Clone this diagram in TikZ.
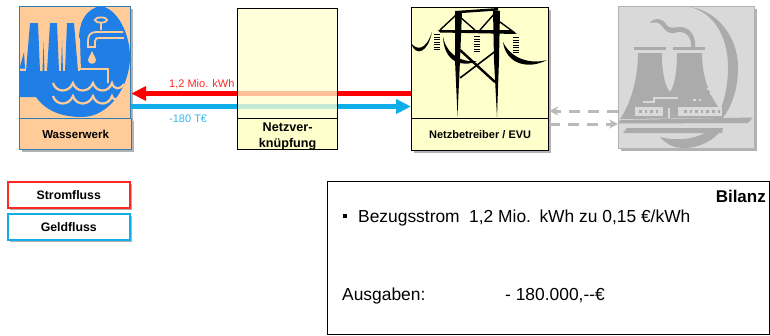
\documentclass[tikz,border=0pt]{standalone}
\usepackage{fontspec}
\setmainfont{Liberation Sans}
\usepackage{xcolor}
\usetikzlibrary{arrows.meta,shadows}
\definecolor{wasserfill}{HTML}{FFCC99}
\definecolor{wasserblau}{HTML}{1F7FE6}
\definecolor{rahmenblau}{HTML}{2E7DB5}
\definecolor{netzfill}{HTML}{FFFFCC}
\definecolor{stromrot}{HTML}{FF0000}
\definecolor{geldblau}{HTML}{0FAEE8}
\definecolor{kwfill}{HTML}{D9D9D9}
\definecolor{kwgrau}{HTML}{ABABAB}
\tikzset{
  schatten/.style={drop shadow={shadow xshift=2pt,shadow yshift=-2pt,fill=black!60,opacity=.5}},
  feld/.style={rectangle, draw, line width=1.2pt, inner sep=0pt, anchor=north west, align=center, font=\fontsize{11.5}{13}\selectfont\bfseries},
  fluss/.style={line width=5pt, -{Triangle[length=15pt,width=14pt]}},
  grauflow/.style={line width=3pt, draw=black!27, dash pattern=on 11pt off 8pt, -{Stealth[length=9pt,width=9pt]}},
  wert/.style={font=\fontsize{11}{13}\selectfont, inner sep=0pt, anchor=base west},
  bilanz/.style={font=\fontsize{17.4}{20}\selectfont, inner sep=0pt, anchor=base west},
  legende/.style={feld, schatten, fill=white, line width=1.6pt, minimum width=122pt, minimum height=26pt, font=\fontsize{12.3}{14}\selectfont\bfseries}
}
\begin{document}
\begin{tikzpicture}[x=1pt,y=-1pt]
\useasboundingbox (0,0) rectangle (770,335);

% Wasserwerk
\node[feld, schatten, fill=wasserfill, draw=rahmenblau, minimum width=111pt, minimum height=112pt] (WW) at (19,6) {};
\fill[wasserblau] (100,6) .. controls (118,8) and (130,35) .. (130,57) .. controls (130,85) and (110,117) .. (82,117) .. controls (60,117) and (45,110) .. (36,97) -- (80,71) -- (79,40) .. controls (79,22) and (85,10) .. (100,6) -- cycle;
\fill[wasserblau] (19,97) -- (19,71) -- (26,71) -- (30,23) -- (38,23) -- (40,71) -- (42.5,71) -- (43.5,42) -- (44.5,71) -- (47,71) -- (50,23) -- (57,23) -- (59,71) -- (61,71) -- (62,40) -- (63,71) -- (65,71) -- (67,23) -- (74,23) -- (78,71) -- (108,71) -- (108,97) -- cycle;
\fill[wasserblau] (19.5,68.5) -- (24,52) -- (25,68.5) -- cycle;
\draw[wasserfill, line width=1.8pt] (79,38) -- (80,69) -- (108,69) -- (108,83);
\draw[wasserfill, line width=1.8pt] (101,20) ellipse (6pt and 2.6pt);
\draw[wasserfill, line width=1.8pt] (101,23) -- (101,30);
\draw[wasserfill, line width=1.8pt] (123,32) -- (96,32) .. controls (90,32) and (88,36) .. (88,41) -- (88,47) -- (95,47) -- (95,41) .. controls (95,38) and (97,38) .. (100,38) -- (124,38);
\fill[wasserfill] (92,51) .. controls (90,56) and (88,58) .. (88,60) .. controls (88,65) and (96,65) .. (96,60) .. controls (96,58) and (94,56) .. (92,51) -- cycle;
\draw[wasserfill, line width=2.2pt] (53,83) .. controls (56,93) and (69,93) .. (73,83) .. controls (76,93) and (89,93) .. (93,83) .. controls (96,93) and (109,93) .. (112,83) .. controls (114,90) and (120,90) .. (124,84);
\draw[wasserfill, line width=2.2pt] (53,96) .. controls (56,106) and (69,106) .. (73,96) .. controls (76,106) and (89,106) .. (93,96) .. controls (96,106) and (109,106) .. (112,96) .. controls (113,100) and (116,100) .. (118,98);
\node[feld, schatten, fill=wasserfill, draw=rahmenblau, minimum width=112pt, minimum height=31pt] (WWt) at (19,118) {Wasserwerk};

% Netzbetreiber
\node[feld, schatten, fill=netzfill, minimum width=137pt, minimum height=111pt] (EVU) at (411,7) {};
\fill[black] (455,12) -- (462,12) -- (460,60) -- (457.5,116) -- (455,60) -- cycle;
\fill[black] (493,10) -- (500,11) -- (499,60) -- (497,117) -- (494,60) -- cycle;
\fill[black] (455,11) -- (498,8) -- (498,10.5) -- (455,13.5) -- cycle;
\fill[black] (438,30) -- (510,30) -- (517,34) -- (440,32.5) -- cycle;
\draw[black, line width=1.4pt] (456,15) -- (440,30);
\draw[black, line width=1.4pt] (495,13) -- (480,30);
\draw[black, line width=1.4pt] (460,17) -- (475,30);
\draw[black, line width=1.4pt] (500,22) -- (515,33);
\draw[black, line width=2.4pt] (460,50) -- (495,82);
\draw[black, line width=1.6pt] (497,50) -- (460,78);
\fill[black] (411,43) .. controls (417,51) and (426,50) .. (432,32) .. controls (428,52) and (416,58) .. (411,43) -- cycle;
\fill[black] (443,37) .. controls (447,55) and (462,63) .. (477,61) .. controls (462,68) and (444,62) .. (443,37) -- cycle;
\fill[black] (503,42) .. controls (510,57) and (528,65) .. (547,60) .. controls (528,70) and (506,64) .. (503,42) -- cycle;
\draw[black, line width=6pt, dash pattern=on 1.3pt off 1.2pt] (437,34) -- (437,50);
\draw[black, line width=6pt, dash pattern=on 1.3pt off 1.2pt] (477,36) -- (477,52);
\draw[black, line width=6pt, dash pattern=on 1.3pt off 1.2pt] (516,37) -- (516,53);
\node[feld, schatten, fill=netzfill, minimum width=137pt, minimum height=32pt, font=\fontsize{11}{13}\selectfont\bfseries] (EVUt) at (411,118) {Netzbetreiber / EVU};

% Kraftwerk
\node[rectangle, schatten, draw=black!30, line width=1.4pt, fill=kwfill, inner sep=0pt, anchor=north west, minimum width=136pt, minimum height=142pt] (KW) at (618,6) {};
\fill[kwgrau] (690,7) .. controls (715,10) and (738,35) .. (738,67) .. controls (738,90) and (732,105) .. (723,118) -- (717,118) .. controls (725,100) and (728,85) .. (728,67) .. controls (728,35) and (712,12) .. (690,7) -- cycle;
\fill[kwgrau] (660,137) .. controls (668,146) and (676,148) .. (683,148) .. controls (700,148) and (715,140) .. (723,128) -- (708,131) .. controls (695,140) and (675,141) .. (660,137) -- cycle;
\fill[kwgrau] (650,23) .. controls (654,17) and (662,18) .. (666,24) .. controls (670,30) and (674,27) .. (680,27) .. controls (690,27) and (696,36) .. (695,47) -- (691,47) .. controls (692,38) and (686,31) .. (678,32) .. controls (670,35) and (666,32) .. (662,26) .. controls (659,22) and (655,22) .. (650,23) -- cycle;
\fill[kwgrau] (634,46.5) rectangle (666,49.5);
\fill[kwgrau] (673,46.5) rectangle (705,49.5);
\fill[kwgrau] (638,53) -- (662,53) .. controls (662,70) and (664,85) .. (670,92) .. controls (675,85) and (677,70) .. (677,53) -- (702,53) .. controls (702,75) and (708,95) .. (722,112) -- (722,118) -- (620,119) .. controls (630,105) and (638,80) .. (638,53) -- cycle;
\fill[kwgrau] (620,120) -- (753,117.5) -- (748,123) -- (619,123.5) -- cycle;
\fill[kwgrau] (627,128) -- (723,128) -- (722,133) -- (623,133) -- cycle;
\fill[kwfill] (635,107) rectangle (663,115.5);
\fill[kwfill] (678,107) rectangle (722,115.5);
\draw[kwfill, line width=1.2pt] (643,102) -- (654,102) -- (654,98) -- (678,98);
\draw[kwfill, line width=1.2pt] (669,108) -- (669,118);
\draw[kwfill, line width=1.2pt] (707,89) -- (722,89);
\draw[kwfill, line width=1.2pt] (710,94) -- (725,94);
\draw[kwgrau, line width=2.6pt, dash pattern=on 2.6pt off 3pt] (639,111.5) -- (661,111.5);
\draw[kwgrau, line width=2.6pt, dash pattern=on 2.6pt off 3pt] (684,111.5) -- (722,111.5);
\draw[kwfill, line width=2.6pt, dash pattern=on 2.6pt off 3pt] (693,100) -- (703,100);

% Fluesse
\coordinate (rotlinie) at (0,93.5);
\coordinate (blaulinie) at (0,106.5);
\draw[fluss, draw=stromrot, fill=stromrot] (EVU.west |- rotlinie) -- (WW.east |- rotlinie);
\draw[fluss, draw=geldblau, fill=geldblau] (WW.east |- blaulinie) -- (EVU.west |- blaulinie);
\coordinate (graulinie) at (0,111);
\coordinate (graulinieb) at (0,124);
\draw[grauflow] (KW.west |- graulinie) -- (EVU.east |- graulinie);
\draw[grauflow] (EVU.east |- graulinieb) -- (KW.west |- graulinieb);
\node[wert, text=stromrot!85!white] (strommenge) at (169,87) {1,2 Mio. kWh};
\node[wert, text=geldblau!85!white] (geldmenge) at (169,122) {-180 T€};

% Netzverknuepfung
\node[feld, fill=netzfill, fill opacity=.75, text opacity=1, minimum width=100pt, minimum height=110pt] (NV) at (237,8) {};
\node[feld, fill=netzfill, minimum width=100pt, minimum height=31pt, font=\fontsize{12.6}{15.5}\selectfont\bfseries] (NVt) at (237,118) {\rule{0pt}{13pt}Netzver-\\knüpfung};

% Legende
\node[legende, draw=stromrot!85!white] (LS) at (7,181) {Stromfluss};
\node[legende, draw=geldblau] (LG) at (7,213) {Geldfluss};

% Bilanz
\node[rectangle, draw=black, line width=1.2pt, inner sep=0pt, anchor=north west, minimum width=442pt, minimum height=153pt] (BI) at (327,181) {};
\node[bilanz, anchor=base east, font=\fontsize{17}{20}\selectfont\bfseries] (BIt) at (766,202) {Bilanz};
\node[rectangle, fill=black, inner sep=0pt, minimum width=4.5pt, minimum height=4.5pt] (BIp) at (345,216) {};
\node[bilanz] (BI1) at (358,222) {Bezugsstrom};
\node[bilanz] (BI2) at (469,222) {1,2 Mio. \hspace{2pt}kWh zu 0,15 €/kWh};
\node[bilanz] (BI3) at (342,300) {Ausgaben:};
\node[bilanz] (BI4) at (505,300) {- 180.000,-{}-€};
\end{tikzpicture}
\end{document}
